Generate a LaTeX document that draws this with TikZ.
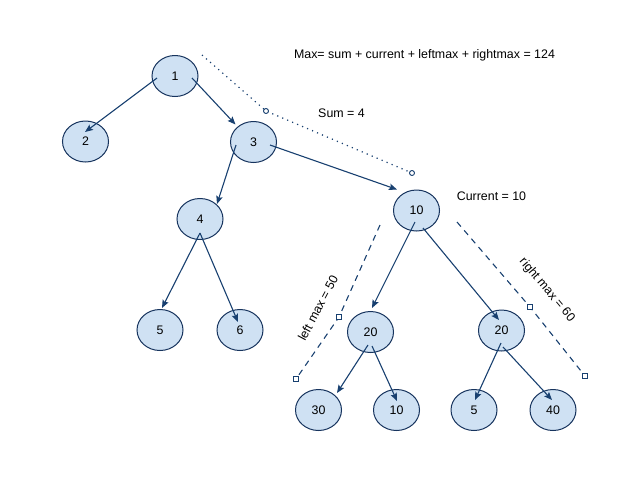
\documentclass[tikz,border=0pt]{standalone}
\usepackage{fontspec}
\setmainfont{Liberation Sans}
\usetikzlibrary{arrows.meta,calc,shapes.geometric}
\definecolor{nodefill}{RGB}{207,225,243}
\definecolor{nodeedge}{RGB}{23,52,94}
\definecolor{linecol}{RGB}{24,64,112}
\tikzset{
  tn/.style={ellipse,draw=nodeedge,fill=nodefill,line width=1pt,minimum width=46pt,minimum height=41pt,inner sep=0pt,font=\fontsize{12.4}{14}\selectfont},
  arr/.style={draw=linecol,line width=1.1pt,-{Stealth[length=8pt,width=6.5pt,inset=1.5pt]}},
  lbl/.style={font=\fontsize{12.4}{14}\selectfont,inner sep=0pt},
  dotline/.style={draw=linecol,line width=1.2pt,dash pattern=on 1.2pt off 4.2pt},
  dashline/.style={draw=linecol,line width=1.1pt,dash pattern=on 6pt off 5pt},
  circmark/.style={circle,draw=linecol,fill=white,line width=0.9pt,minimum size=5pt,inner sep=0pt},
  sqmark/.style={rectangle,draw=linecol,fill=white,line width=0.9pt,minimum size=4.5pt,inner sep=0pt}
}
\begin{document}
\begin{tikzpicture}[x=1pt,y=-1pt]
\useasboundingbox (0,0) rectangle (640,480);
% nodes
\node[tn] (n1) at (175,76) {1};
\node[tn] (n2) at (85.5,141.5) {2};
\node[tn] (n3) at (253.5,142) {3};
\node[tn] (n4) at (200,219) {4};
\node[tn] (n5) at (160,330) {5};
\node[tn] (n6) at (240,330) {6};
\node[tn] (n10) at (416.5,210.5) {10};
\node[tn] (n20a) at (370.5,332) {20};
\node[tn] (n20b) at (501.5,330.5) {20};
\node[tn] (n30) at (318.5,410) {30};
\node[tn] (n10b) at (396.5,410) {10};
\node[tn] (n5b) at (474,410) {5};
\node[tn] (n40) at (553,410) {40};
% arrows
\draw[arr] ($(n1)+(-18,2)$) -- ($(n2)+(-0.5,-9.5)$);
\draw[arr] ($(n1)+(17,2)$) -- ($(n3)+(-18,-17.5)$);
\draw[arr] ($(n3)+(-17.5,3)$) -- ($(n4)+(17,-15)$);
\draw[arr] ($(n3)+(16.5,3)$) -- ($(n10)+(-19.5,-21)$);
\draw[arr] ($(n4)+(0,14)$) -- ($(n5)+(2,-22)$);
\draw[arr] ($(n4)+(0,14)$) -- ($(n6)+(-2,-8)$);
\draw[arr] ($(n10)+(-1.5,11.5)$) -- ($(n20a)+(1.5,-24)$);
\draw[arr] ($(n10)+(6.5,17.5)$) -- ($(n20b)+(-2.5,-10.5)$);
\draw[arr] ($(n20a)+(-2.5,13)$) -- ($(n30)+(18.5,-17)$);
\draw[arr] ($(n20a)+(1.5,14)$) -- ($(n10b)+(0.5,-9)$);
\draw[arr] ($(n20b)+(-0.5,12.5)$) -- ($(n5b)+(1,-10)$);
\draw[arr] ($(n20b)+(1.5,16.5)$) -- ($(n40)+(-1,-10)$);
% dotted sum line
\coordinate (d0) at (202,55);
\coordinate (d1) at (266,111);
\coordinate (d2) at (412,173);
\draw[dotline] (d0) -- (d1) -- (d2);
\node[circmark] (dm1) at (d1) {};
\node[circmark] (dm2) at (d2) {};
% dashed left
\coordinate (l0) at (380,225);
\coordinate (l1) at (339,317);
\coordinate (l2) at (296,379);
\draw[dashline] (l0) -- (l1) -- (l2);
\node[sqmark] (lm1) at (l1) {};
\node[sqmark] (lm2) at (l2) {};
% dashed right
\coordinate (r0) at (457,222);
\coordinate (r1) at (530,307);
\coordinate (r2) at (585,376);
\draw[dashline] (r0) -- (r1) -- (r2);
\node[sqmark] (rm1) at (r1) {};
\node[sqmark] (rm2) at (r2) {};
% labels
\node[lbl] (tmax) at (424.5,55) {Max= sum + current + leftmax + rightmax = 124};
\node[lbl] (tsum) at (341.5,113) {Sum = 4};
\node[lbl] (tcur) at (491.5,196.5) {Current = 10};
\node[lbl,rotate=62] (tleft) at (318,308) {left max = 50};
\node[lbl,rotate=-50] (tright) at (547,290) {right max = 60};
\end{tikzpicture}
\end{document}
